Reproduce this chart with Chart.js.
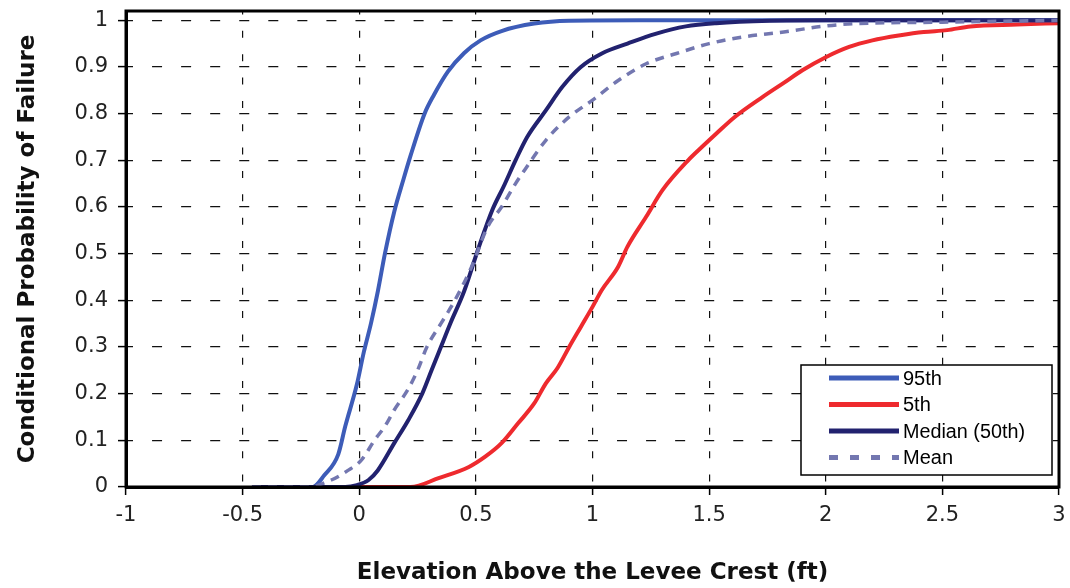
<!DOCTYPE html>
<html>
<head>
<meta charset="utf-8">
<title>Conditional Probability of Failure</title>
<script src="https://cdn.jsdelivr.net/npm/chart.js@4.4.1/dist/chart.umd.min.js"></script>
<style>
  html, body { margin: 0; padding: 0; background: #fff; }
  #wrap { width: 1070px; height: 588px; }
</style>
</head>
<body>
<div id="wrap"><canvas id="myChart" width="1070" height="588"></canvas></div>
<script>
// values (elevation in ft, probability)
const p95X = [-0.46, -0.20, -0.15, -0.09, -0.06, -0.01, 0.02, 0.05, 0.08, 0.11, 0.15, 0.19, 0.22, 0.28, 0.32, 0.38, 0.45, 0.52, 0.61, 0.75, 0.90, 1.2, 1.6, 2.0, 2.5, 3.0];
const p95Y = [0, 0, 0.025, 0.07, 0.13, 0.22, 0.29, 0.35, 0.42, 0.50, 0.59, 0.66, 0.71, 0.80, 0.84, 0.89, 0.93, 0.957, 0.977, 0.993, 0.999, 1, 1, 1, 1, 1];

const p5X = [0.0, 0.22, 0.34, 0.47, 0.54, 0.61, 0.68, 0.75, 0.80, 0.85, 0.90, 0.95, 1.0, 1.04, 1.11, 1.15, 1.23, 1.30, 1.41, 1.47, 1.53, 1.61, 1.73, 1.82, 1.90, 2.0, 2.10, 2.20, 2.32, 2.42, 2.52, 2.62, 2.82, 3.0];
const p5Y = [0, 0, 0.019, 0.043, 0.065, 0.094, 0.136, 0.179, 0.222, 0.255, 0.30, 0.343, 0.386, 0.422, 0.472, 0.515, 0.579, 0.636, 0.70, 0.729, 0.757, 0.793, 0.836, 0.866, 0.893, 0.921, 0.943, 0.957, 0.968, 0.975, 0.979, 0.987, 0.991, 0.994];

const medX = [-0.46, -0.06, -0.01, 0.04, 0.08, 0.15, 0.21, 0.27, 0.31, 0.35, 0.39, 0.45, 0.51, 0.57, 0.62, 0.67, 0.72, 0.80, 0.87, 0.95, 1.04, 1.15, 1.27, 1.40, 1.53, 1.76, 2.0, 2.5, 3.0];
const medY = [0, 0, 0.004, 0.015, 0.036, 0.094, 0.143, 0.20, 0.25, 0.30, 0.35, 0.42, 0.51, 0.593, 0.645, 0.70, 0.75, 0.807, 0.857, 0.90, 0.929, 0.95, 0.971, 0.987, 0.994, 0.999, 1, 1, 1];

const meanX = [-0.46, -0.22, -0.12, -0.05, 0.01, 0.065, 0.11, 0.15, 0.21, 0.25, 0.29, 0.35, 0.41, 0.48, 0.55, 0.61, 0.67, 0.71, 0.80, 0.90, 1.0, 1.11, 1.23, 1.36, 1.50, 1.64, 1.82, 2.0, 2.13, 2.5, 3.0];
const meanY = [0, 0, 0.015, 0.035, 0.058, 0.10, 0.13, 0.165, 0.21, 0.25, 0.30, 0.35, 0.40, 0.47, 0.557, 0.60, 0.65, 0.68, 0.743, 0.793, 0.829, 0.871, 0.907, 0.929, 0.95, 0.964, 0.975, 0.988, 0.993, 0.996, 1.0];

const seriesNames = ['95th', '5th', 'Median (50th)', 'Mean'];
const xTicks = [-1, -0.5, 0, 0.5, 1, 1.5, 2, 2.5, 3];
const yTicks = [0, 0.1, 0.2, 0.3, 0.4, 0.5, 0.6, 0.7, 0.8, 0.9, 1];

function pairs(xs, ys) {
    return xs.map((x, i) => ({ x: x, y: ys[i] }));
}

// box round the plot and the legend inside it
const frameAndLegend = {
    id: 'frameAndLegend',
    afterDraw(chart) {
        const ctx = chart.ctx;
        const a = chart.chartArea;
        ctx.save();
        ctx.strokeStyle = '#000';
        ctx.lineWidth = 3;
        ctx.strokeRect(a.left, a.top, a.right - a.left, a.bottom - a.top);

        const bx = 801, by = 365, bw = 251, bh = 110;
        ctx.fillStyle = '#fff';
        ctx.fillRect(bx, by, bw, bh);
        ctx.lineWidth = 1.5;
        ctx.strokeRect(bx, by, bw, bh);
        ctx.font = '20px "Liberation Sans", Arial, sans-serif';
        ctx.textBaseline = 'middle';
        chart.data.datasets.forEach((ds, i) => {
            const ly = by + 13 + i * 26.5;
            ctx.strokeStyle = ds.borderColor;
            ctx.lineWidth = 5;
            ctx.setLineDash(ds.borderDash ? [9, 12] : []);
            ctx.beginPath();
            ctx.moveTo(bx + 28, ly);
            ctx.lineTo(bx + 98, ly);
            ctx.stroke();
            ctx.setLineDash([]);
            ctx.fillStyle = '#000';
            ctx.fillText(ds.label, bx + 102, ly + 1, 122);
        });
        ctx.restore();
    }
};

const data = {
    datasets: [{
        label: seriesNames[0],
        data: pairs(p95X, p95Y),
        borderColor: '#3d5cb8',
        borderWidth: 4,
        order: 2
    }, {
        label: seriesNames[1],
        data: pairs(p5X, p5Y),
        borderColor: '#ee2a2e',
        borderWidth: 4,
        order: 3
    }, {
        label: seriesNames[2],
        data: pairs(medX, medY),
        borderColor: '#22226f',
        borderWidth: 4,
        order: 1
    }, {
        label: seriesNames[3],
        data: pairs(meanX, meanY),
        borderColor: '#7377b0',
        borderWidth: 3.5,
        borderDash: [9, 7],
        order: 0
    }]
};

const tickFont = { family: '"DejaVu Sans", sans-serif', size: 21 };
const titleFont = { family: '"DejaVu Sans", sans-serif', size: 23, weight: 'bold' };

const config = {
    type: 'line',
    data,
    options: {
        responsive: false,
        animation: false,
        devicePixelRatio: 1,
        layout: { padding: { top: 11, right: 11, left: 0, bottom: 0 } },
        elements: {
            point: { radius: 0 },
            line: { cubicInterpolationMode: 'monotone', fill: false }
        },
        plugins: {
            legend: { display: false },
            tooltip: { enabled: false }
        },
        scales: {
            x: {
                type: 'linear',
                min: xTicks[0],
                max: xTicks[xTicks.length - 1],
                afterFit: function (scale) {
                    scale.height = 101;
                    scale.paddingLeft = 0;
                    scale.paddingRight = 0;
                },
                afterBuildTicks: function (scale) {
                    scale.ticks = xTicks.map(v => ({ value: v }));
                },
                ticks: {
                    font: tickFont,
                    color: '#222',
                    padding: 8,
                    maxRotation: 0,
                    callback: function (value) { return String(value); }
                },
                grid: {
                    color: '#111',
                    lineWidth: 1.2,
                    tickLength: 8,
                    tickColor: '#000',
                    tickWidth: 1.5
                },
                border: { display: true, color: '#000', width: 3, dash: [7, 16.35], dashOffset: 3.5 },
                title: {
                    display: true,
                    text: 'Elevation Above the Levee Crest (ft)',
                    font: titleFont,
                    color: '#111',
                    padding: { top: 0, bottom: 1 }
                }
            },
            y: {
                type: 'linear',
                min: 0,
                max: 1.02,
                afterFit: function (scale) {
                    scale.width = 126;
                    scale.paddingTop = 0;
                    scale.paddingBottom = 0;
                },
                afterBuildTicks: function (scale) {
                    scale.ticks = yTicks.map(v => ({ value: v }));
                },
                ticks: {
                    font: tickFont,
                    color: '#222',
                    padding: 10,
                    callback: function (value) { return (value === 0 || value === 1) ? String(value) : value.toFixed(1); }
                },
                grid: {
                    color: '#111',
                    lineWidth: 1.2,
                    tickLength: 8,
                    tickColor: '#000',
                    tickWidth: 1.5
                },
                border: { display: true, color: '#000', width: 3, dash: [10, 19.06], dashOffset: 5 },
                title: {
                    display: true,
                    text: 'Conditional Probability of Failure',
                    font: titleFont,
                    color: '#111',
                    padding: { top: 14, bottom: 0 }
                }
            }
        }
    },
    plugins: [frameAndLegend]
};

const myChart = new Chart(document.getElementById('myChart'), config);
</script>
</body>
</html>
